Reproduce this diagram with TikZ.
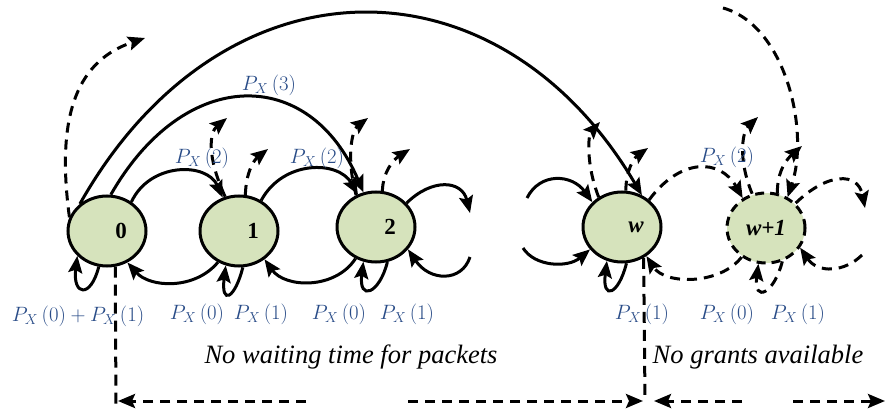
\documentclass[tikz,border=0pt]{standalone}
\usepackage{fontspec}
\setmainfont{Liberation Serif}
\usetikzlibrary{shapes.geometric,arrows.meta}

\definecolor{statefill}{HTML}{D6E3BC}
\definecolor{probblue}{RGB}{40,75,135}

\def\lblsep{28pt}
\newcommand{\prx}[1]{$P_X\,(#1)$}

\begin{document}
\begin{tikzpicture}[x=1pt,y=1pt,line width=3pt,>={Stealth[length=17pt,width=14pt,inset=3pt]}]
	\tikzstyle{state}=[ellipse,draw,fill=statefill,minimum width=78pt,minimum height=70pt,inner sep=0pt,font=\fontsize{23}{26}\selectfont\bfseries]
	\tikzstyle{open state}=[state,dash pattern=on 9pt off 6pt]
	\tikzstyle{trans}=[->]
	\tikzstyle{dashed trans}=[->,dash pattern=on 10pt off 7pt]
	\tikzstyle{guide}=[dash pattern=on 11pt off 7pt]
	\tikzstyle{prob}=[text=probblue,font=\fontsize{22.5}{25}\selectfont,inner sep=0pt]
	\tikzstyle{annot}=[font=\fontsize{26.5}{30}\selectfont\itshape,inner sep=0pt]

	\useasboundingbox (0,0) rectangle (888,410);

	% Draw the states
	\foreach \n/\x/\y in {0/107/179,1/239/179,2/376/183}
		\node[state] (S-\n) at (\x,\y) {\hspace*{\lblsep}\n};
	\node[state] (S-w) at (622,183) {\hspace*{\lblsep}\textit{w}};
	\node[open state] (S-w1) at (766,182) {\textit{w+1}};

	% Self loops below the states
	\foreach \n/\a/\b in {0/257/220,1/276/249,2/288/250,w/277/246}
		\draw[trans] (S-\n.\a) .. controls +(-8,-32) and +(-5,-40) .. (S-\n.\b);
	\draw[dashed trans] (S-w1.296) .. controls +(-8,-32) and +(-5,-40) .. (S-w1.258);

	% Backward transitions
	\draw[trans] (S-1.236) .. controls (195,120) and (150,122) .. (S-0.303);
	\draw[trans] (S-2.237) .. controls (335,120) and (285,122) .. (S-1.312);
	\coordinate (c2rb) at (470,153);
	\draw[trans] (c2rb) .. controls (462,128) and (430,128) .. (S-2.325);
	\coordinate (cwlb) at (523,162);
	\draw[trans] (cwlb) .. controls (535,143) and (568,142) .. (S-w.215);
	\draw[dashed trans] (S-w1.230) .. controls (720,125) and (665,125) .. (S-w.310);
	\coordinate (cw1rb) at (862,155);
	\draw[dashed trans] (cw1rb) .. controls (845,138) and (818,136) .. (S-w1.330);

	% Forward transitions
	\draw[trans] (S-0.50) .. controls (150,248) and (207,248) .. (S-1.116);
	\draw[trans] (S-1.54) .. controls (283,250) and (338,250) .. (S-2.119);
	\draw[trans] (S-0.84) .. controls (185,345) and (310,344) .. (S-2.110);
	\draw[trans] (S-0.135) .. controls (222,458) and (498,459) .. (S-w.58);
	\coordinate (c2r) at (470,197);
	\draw[trans] (S-2.38) .. controls (432,232) and (462,230) .. (c2r);
	\coordinate (cwl) at (527,212);
	\draw[trans] (cwl) .. controls (540,238) and (572,236) .. (S-w.140);
	\draw[dashed trans] (S-w.45) .. controls (680,252) and (720,252) .. (S-w1.128);
	\coordinate (cw1top) at (723,402);
	\draw[dashed trans] (cw1top) .. controls (785,385) and (810,280) .. (S-w1.55);
	\coordinate (cw1r) at (865,202);
	\draw[dashed trans] (S-w1.40) .. controls (828,238) and (858,238) .. (cw1r);

	% Dashed transitions leaving upwards
	\coordinate (c0u) at (145,372);
	\draw[dashed trans] (S-0.160) .. controls (55,300) and (80,350) .. (c0u);
	\coordinate (c1a) at (227,292);
	\coordinate (c1b) at (268,261);
	\draw[dashed trans] (S-1.112) .. controls (206,255) and (210,278) .. (c1a);
	\draw[dashed trans] (S-1.80) .. controls (246,238) and (254,250) .. (c1b);
	\coordinate (c2a) at (368,292);
	\coordinate (c2b) at (410,261);
	\draw[dashed trans] (S-2.122) .. controls (346,252) and (352,280) .. (c2a);
	\draw[dashed trans] (S-2.80) .. controls (383,238) and (393,250) .. (c2b);
	\coordinate (cwa) at (600,288);
	\coordinate (cwb) at (648,262);
	\draw[dashed trans] (S-w.128) .. controls (586,245) and (588,275) .. (cwa);
	\draw[dashed trans] (S-w.84) .. controls (626,240) and (634,252) .. (cwb);
	\coordinate (cw1a) at (758,293);
	\coordinate (cw1b) at (802,264);
	\draw[dashed trans] (S-w1.112) .. controls (738,250) and (742,278) .. (cw1a);
	\draw[dashed trans] (S-w1.72) .. controls (777,240) and (788,252) .. (cw1b);

	% Transition probabilities
	\node[prob] (P-01) at (202,252) {\prx{2}};
	\node[prob] (P-12) at (317,252) {\prx{2}};
	\node[prob] (P-02) at (269,325) {\prx{3}};
	\node[prob] (P-ww1) at (727,253) {\prx{2}};
	\node[prob] (P-00) at (78,94) {$P_X\,(0)+P_X\,(1)$};
	\foreach \x/\k in {197/0,261/1,339/0,407/1,642/1,727/0,798/1}
		\node[prob] at (\x,96) {\prx{\k}};

	% Regions along the bottom
	\coordinate (v0) at (116,0);
	\coordinate (vw) at (645,10);
	\draw[guide] (S-0.283) -- (v0);
	\draw[guide] (S-w.305) -- (vw);
	\coordinate (h1a) at (306,9);
	\coordinate (h1b) at (118,9);
	\coordinate (h2a) at (408,9);
	\coordinate (h2b) at (643,9);
	\coordinate (h3a) at (742,9);
	\coordinate (h3b) at (654,9);
	\coordinate (h4a) at (793,9);
	\coordinate (h4b) at (885,9);
	\foreach \h in {1,...,4}
		\draw[dashed trans] (h\h a) -- (h\h b);
	\node[annot] (T-wait) at (351,53) {No waiting time for packets};
	\node[annot] (T-grant) at (758,53) {No grants available};

\end{tikzpicture}
\end{document}
